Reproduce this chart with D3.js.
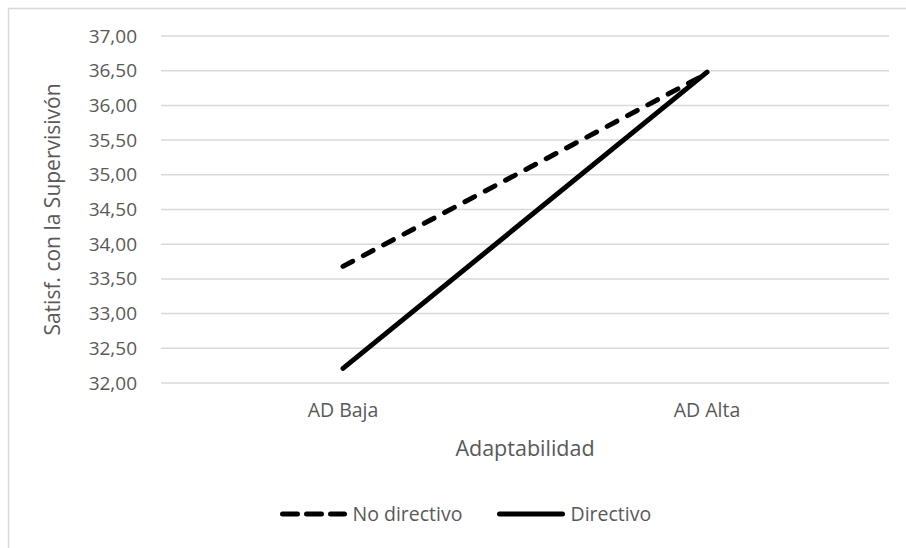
<!DOCTYPE html>
<html><head><meta charset="utf-8">
<script src="https://cdn.jsdelivr.net/npm/d3@7"></script>
<style>
html,body{margin:0;padding:0;background:#fff;}
svg{display:block;font-family:"Open Sans",sans-serif;}
</style></head>
<body>
<svg id="chart" width="906" height="548"></svg>
<script>
const categories = ["AD Baja", "AD Alta"];
const seriesNames = ["No directivo", "Directivo"];
const noDirectivo = [33.68, 36.46];
const directivo = [32.21, 36.48];
const yTicks = [32, 32.5, 33, 33.5, 34, 34.5, 35, 35.5, 36, 36.5, 37];
const yTitle = "Satisf. con la Supervisivón";
const xTitle = "Adaptabilidad";

(function () {
const svg = d3.select("#chart");
const textColor = "#595959";
const gridColor = "#d9d9d9";
const font = "Open Sans, sans-serif";

svg.append("rect").attr("x", 8.5).attr("y", 8.5).attr("width", 920).attr("height", 560)
  .attr("fill", "none").attr("stroke", gridColor).attr("stroke-width", 1.5);

const pLeft = 161, pRight = 889, pTop = 36, pBottom = 383;
const x = d3.scaleBand().domain(categories).range([pLeft, pRight]);
const y = d3.scaleLinear().domain([32, 37]).range([pBottom, pTop]);

const fmt = v => d3.format(".2f")(v).replace(".", ",");

// gridlines
svg.append("g").selectAll("line").data(yTicks).join("line")
  .attr("x1", pLeft).attr("x2", pRight)
  .attr("y1", d => y(d)).attr("y2", d => y(d))
  .attr("stroke", gridColor).attr("stroke-width", 1.5);

// y axis labels
const yAxis = svg.append("g").attr("transform", `translate(${pLeft},0)`)
  .call(d3.axisLeft(y).tickValues(yTicks).tickFormat(fmt).tickSize(0).tickPadding(24));
yAxis.select(".domain").remove();
yAxis.selectAll("text").attr("fill", textColor).attr("font-size", "19px")
  .attr("font-family", font);

// x axis labels
const xAxis = svg.append("g").attr("transform", `translate(0,${pBottom})`)
  .call(d3.axisBottom(x).tickSize(0).tickPadding(20));
xAxis.select(".domain").remove();
xAxis.selectAll("text").attr("fill", textColor).attr("font-size", "19.5px")
  .attr("font-family", font);

// titles
svg.append("text").attr("x", (pLeft + pRight) / 2).attr("y", 456).attr("text-anchor", "middle")
  .attr("fill", textColor).attr("font-size", "21.5px").attr("font-family", font).text(xTitle);
svg.append("text").attr("transform", `translate(60,${(pTop + pBottom) / 2}) rotate(-90)`)
  .attr("text-anchor", "middle").attr("fill", textColor).attr("font-size", "21px")
  .attr("font-family", font).text(yTitle);

// lines
const line = d3.line().x((d, i) => x(categories[i]) + x.bandwidth() / 2).y(d => y(d));
svg.append("path").datum(directivo).attr("d", line).attr("fill", "none")
  .attr("stroke", "#000").attr("stroke-width", 5).attr("stroke-linecap", "round");
svg.append("path").datum(noDirectivo).attr("d", line).attr("fill", "none")
  .attr("stroke", "#000").attr("stroke-width", 5).attr("stroke-linecap", "round")
  .attr("stroke-dasharray", "11,12");

// legend
const legend = svg.append("g");
const legItems = [
  {name: seriesNames[0], x0: 282.5, x1: 344.5, dash: "15,9"},
  {name: seriesNames[1], x0: 499.5, x1: 562.5, dash: null}
];
const ly = 514;
legItems.forEach(it => {
  const l = legend.append("line").attr("x1", it.x0).attr("x2", it.x1).attr("y1", ly).attr("y2", ly)
    .attr("stroke", "#000").attr("stroke-width", 5).attr("stroke-linecap", "round");
  if (it.dash) l.attr("stroke-dasharray", it.dash);
  legend.append("text").attr("x", it.x1 + 8).attr("y", ly + 7).attr("fill", textColor)
    .attr("font-size", "19.5px").attr("font-family", font).text(it.name);
});
})();
</script>
</body></html>
